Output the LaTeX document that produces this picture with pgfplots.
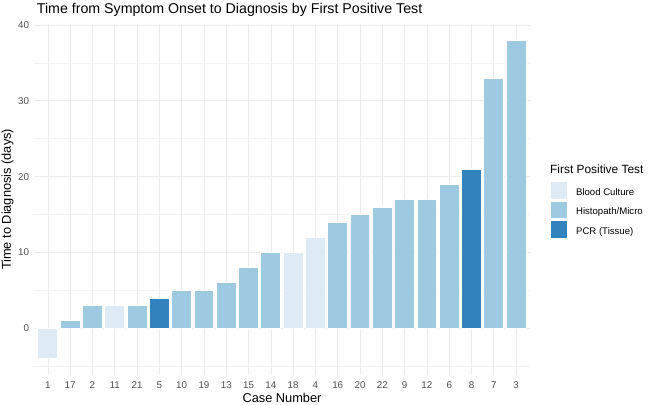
\documentclass[border=0pt]{standalone}
\usepackage{fontspec}
\setmainfont{Liberation Sans}
\usepackage{pgfplots}
\pgfplotsset{compat=1.18}
\definecolor{bc}{HTML}{DEEBF7}
\definecolor{hm}{HTML}{9ECAE1}
\definecolor{pcr}{HTML}{3182BD}
\definecolor{gridc}{HTML}{EBEBEB}
\definecolor{txt}{HTML}{4D4D4D}
\begin{document}
\begin{tikzpicture}
\begin{axis}[
  scale only axis, width=495pt, height=350.5pt,
  xmin=-0.6, xmax=21.6, ymin=-6.1, ymax=40.1,
  clip=false,
  axis line style={draw=none}, major tick length=0pt, minor tick length=0pt,
  xtick={0,...,21},
  xticklabels={1,17,2,11,21,5,10,19,13,15,14,18,4,16,20,22,9,12,6,8,7,3},
  ytick={0,10,20,30,40}, minor ytick={-5,5,15,25,35},
  /pgf/number format/assume math mode=true,
  grid=both,
  major grid style={gridc, line width=0.7pt},
  minor grid style={gridc!60, line width=0.5pt},
  ticklabel style={font=\fontsize{9.8}{11}\selectfont, text=txt, inner sep=0pt},
  xticklabel style={anchor=base, yshift=-13.6pt},
  yticklabel style={anchor=east, xshift=-5.2pt},
  xlabel={Case Number}, ylabel={Time to Diagnosis (days)},
  label style={font=\fontsize{12.8}{14}\selectfont, inner sep=0pt},
  xlabel style={at={(axis description cs:0.5,-0.0793)}, anchor=base},
  ylabel style={at={(axis description cs:-0.0475,0.5)}, anchor=base},
  title={Time from Symptom Onset to Diagnosis by First Positive Test},
  title style={font=\fontsize{14.2}{16}\selectfont, at={(axis description cs:0.0044,1.0131)}, anchor=base west, inner sep=0pt},
  legend cell align=left,
  legend style={at={(axis description cs:1.0404,0.552)}, anchor=north west, draw=none, fill=none,
    inner sep=0pt, outer sep=0pt, nodes={inner sep=0pt},
    font=\fontsize{9.6}{11}\selectfont, row sep=0pt, column sep=7.5pt},
  legend image code/.code={\path[#1] (0pt,-6.8pt) rectangle (17.9pt,11.2pt);},
]
\addplot[ybar, bar width=0.9, bar shift=0pt, fill=bc, draw=white, line width=1.2pt]
  coordinates {(0,-4) (3,3) (11,10) (12,12)};
\addlegendentry{Blood Culture}
\addplot[ybar, bar width=0.9, bar shift=0pt, fill=hm, draw=white, line width=1.2pt]
  coordinates {(1,1) (2,3) (4,3) (6,5) (7,5) (8,6) (9,8) (10,10) (13,14) (14,15) (15,16) (16,17) (17,17) (18,19) (20,33) (21,38)};
\addlegendentry{Histopath/Micro}
\addplot[ybar, bar width=0.9, bar shift=0pt, fill=pcr, draw=white, line width=1.2pt]
  coordinates {(5,4) (19,21)};
\addlegendentry{PCR (Tissue)}
\node[anchor=base west, font=\fontsize{11.9}{14}\selectfont, inner sep=0pt] at (axis description cs:1.0414,0.5726) {First Positive Test};
\coordinate (pSW) at (axis description cs:0,0);
\coordinate (pNE) at (axis description cs:1,1);
\end{axis}
\pgfresetboundingbox
\path ([shift={(-34.5pt,-30.3pt)}]pSW) rectangle ([shift={(120.5pt,24.2pt)}]pNE);
\end{tikzpicture}
\end{document}
